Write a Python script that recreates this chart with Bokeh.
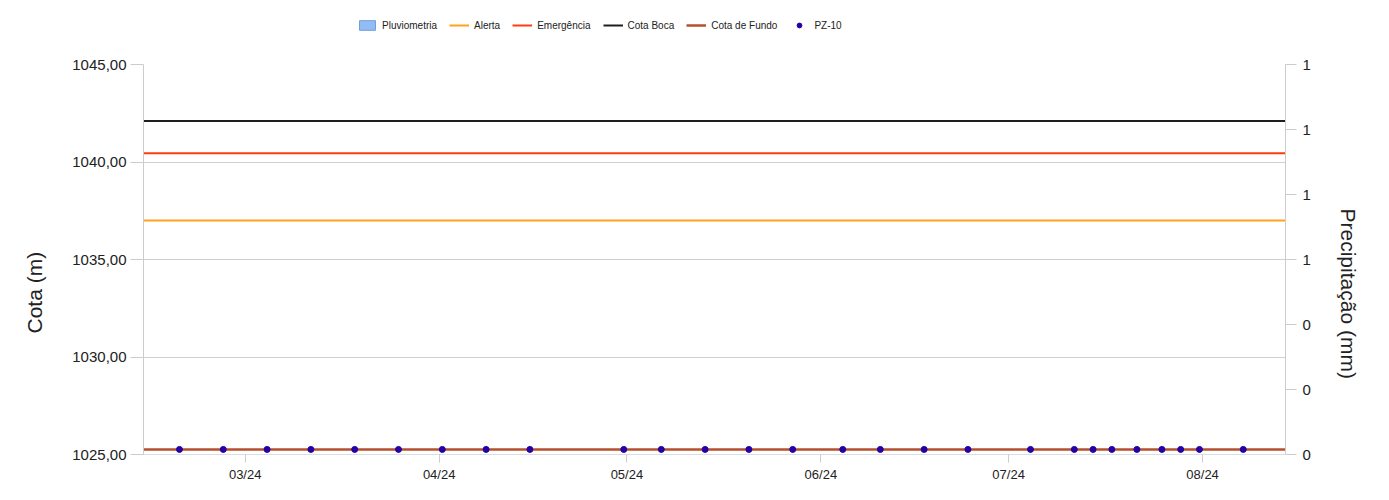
from datetime import datetime
from bokeh.plotting import figure
from bokeh.layouts import column
from bokeh.models import (Range1d, LinearAxis, FixedTicker, MonthsTicker, Title,
                          DatetimeTickFormatter, Legend, LegendItem, ColumnDataSource)
from bokeh.embed import file_html
from bokeh.resources import INLINE

# ---------------- data ----------------
pz_dates = [datetime(2024, 2, 19, 12), datetime(2024, 2, 26, 12), datetime(2024, 3, 4, 12),
            datetime(2024, 3, 11, 12), datetime(2024, 3, 18, 12), datetime(2024, 3, 25, 12),
            datetime(2024, 4, 1, 12), datetime(2024, 4, 8, 12), datetime(2024, 4, 15, 12),
            datetime(2024, 4, 30, 12), datetime(2024, 5, 6, 12), datetime(2024, 5, 13, 12),
            datetime(2024, 5, 20, 12), datetime(2024, 5, 27, 12), datetime(2024, 6, 4, 12),
            datetime(2024, 6, 10, 12), datetime(2024, 6, 17, 12), datetime(2024, 6, 24, 12),
            datetime(2024, 7, 4, 12), datetime(2024, 7, 11, 12), datetime(2024, 7, 14, 12),
            datetime(2024, 7, 17, 12), datetime(2024, 7, 21, 12), datetime(2024, 7, 25, 12),
            datetime(2024, 7, 28, 12), datetime(2024, 7, 31, 12), datetime(2024, 8, 7, 12)]
pz_values = [1025.26] * 27
rain_values = [0.0] * 27

alerta = 1037.0
emergencia = 1040.45
cota_boca = 1042.1
cota_fundo = 1025.26

x_start = datetime(2024, 2, 13, 18)
x_end = datetime(2024, 8, 14, 6)

left_ticks = [1025, 1030, 1035, 1040, 1045]
left_labels = ["1025,00", "1030,00", "1035,00", "1040,00", "1045,00"]
right_ticks = [0, 0.2, 0.4, 0.6, 0.8, 1.0, 1.2]
right_labels = ["0", "0", "0", "1", "1", "1", "1"]

legend_labels = ["Pluviometria", "Alerta", "Emergência", "Cota Boca", "Cota de Fundo", "PZ-10"]

FONT = "Liberation Sans"
C_RAIN_FILL, C_RAIN_LINE = "#93bcf2", "#6e9fe3"
C_ALERTA, C_EMERG, C_BOCA, C_FUNDO, C_PZ = "#ffa31a", "#ff3b12", "#1e1e1e", "#b4502e", "#2400a6"

W = 1381
TOP_H = 40

# ---------------- main figure ----------------
p = figure(width=W, height=444, x_axis_type="datetime",
           x_range=Range1d(x_start, x_end), y_range=Range1d(1025, 1045),
           output_backend="svg", toolbar_location=None,
           min_border_left=143, min_border_right=96, min_border_top=24, min_border_bottom=30)
p.outline_line_color = None
p.background_fill_color = "white"
p.border_fill_color = "white"

p.extra_y_ranges = {"rain": Range1d(0, 1.2)}

p.xgrid.grid_line_color = None
p.ygrid.grid_line_color = "#cfcfcf"
p.ygrid.grid_line_width = 1

ya = p.yaxis[0]
ya.ticker = FixedTicker(ticks=left_ticks)
ya.major_label_overrides = {t: l for t, l in zip(left_ticks, left_labels)}
ya.major_label_text_font = FONT
ya.major_label_text_font_size = "15px"
ya.major_label_text_color = "#222222"
ya.major_label_standoff = 4
ya.axis_line_color = "#cccccc"
ya.major_tick_line_color = "#cccccc"
ya.major_tick_out = 13
ya.major_tick_in = 0
ya.minor_tick_line_color = None

ra = LinearAxis(y_range_name="rain", ticker=FixedTicker(ticks=right_ticks))
ra.major_label_overrides = {t: l for t, l in zip(right_ticks, right_labels)}
ra.major_label_text_font = FONT
ra.major_label_text_font_size = "15px"
ra.major_label_text_color = "#222222"
ra.major_label_standoff = 6
ra.axis_line_color = "#cccccc"
ra.major_tick_line_color = "#cccccc"
ra.major_tick_out = 11
ra.major_tick_in = 0
ra.minor_tick_line_color = None
p.add_layout(ra, "right")

# axis titles as side titles
t_left = Title(text="Cota (m)", align="left", vertical_align="top", offset=121, standoff=43,
               text_font=FONT, text_font_size="21px", text_font_style="normal",
               text_color="#222222")
p.add_layout(t_left, "left")
t_right = Title(text="Precipitação (mm)", align="left", vertical_align="top", offset=144, standoff=42,
                text_font=FONT, text_font_size="21px", text_font_style="normal",
                text_color="#222222")
p.add_layout(t_right, "right")

xa = p.xaxis[0]
xa.ticker = MonthsTicker(months=list(range(1, 13)))
xa.formatter = DatetimeTickFormatter(months="%m/%y", days="%m/%y")
xa.major_label_text_font = FONT
xa.major_label_text_font_size = "13px"
xa.major_label_text_color = "#222222"
xa.axis_line_color = "#dddddd"
xa.major_tick_line_color = "#cccccc"
xa.major_tick_out = 8
xa.major_tick_in = 0
xa.minor_tick_line_color = None
xa.major_label_standoff = 4

rain_src = ColumnDataSource(dict(x=pz_dates, top=rain_values))
p.vbar(x="x", top="top", width=86400000 * 0.8, source=rain_src,
       y_range_name="rain", fill_color=C_RAIN_FILL, line_color=C_RAIN_LINE)

xs = [x_start, x_end]
p.line(xs, [alerta, alerta], line_color=C_ALERTA, line_width=2)
p.line(xs, [emergencia, emergencia], line_color=C_EMERG, line_width=2)
p.line(xs, [cota_boca, cota_boca], line_color=C_BOCA, line_width=2)
p.line(xs, [cota_fundo, cota_fundo], line_color=C_FUNDO, line_width=2.5)
p.scatter(pz_dates, pz_values, size=6, fill_color=C_PZ, line_color=C_PZ)

# ---------------- legend strip ----------------
lg = figure(width=W, height=TOP_H, x_range=Range1d(0, 1), y_range=Range1d(0, 1),
            output_backend="svg", toolbar_location=None,
            min_border_left=0, min_border_right=0, min_border_top=0, min_border_bottom=0)
lg.axis.visible = False
lg.grid.visible = False
lg.outline_line_color = None
# legend-key glyphs: one point placed outside the strip's visible range
off = ColumnDataSource(dict(x=[-50], y=[-50], top=[-50]))
g_rain = lg.vbar(x="x", top="top", bottom=-51, width=1, source=off,
                 fill_color=C_RAIN_FILL, line_color=C_RAIN_LINE)
g_alerta = lg.line(x="x", y="y", source=off, line_color=C_ALERTA, line_width=2)
g_emerg = lg.line(x="x", y="y", source=off, line_color=C_EMERG, line_width=2)
g_boca = lg.line(x="x", y="y", source=off, line_color=C_BOCA, line_width=2)
g_fundo = lg.line(x="x", y="y", source=off, line_color=C_FUNDO, line_width=2.5)
g_pz = lg.scatter(x="x", y="y", source=off, size=5, fill_color=C_PZ, line_color=C_PZ)
glyphs = [g_rain, g_alerta, g_emerg, g_boca, g_fundo, g_pz]

legend = Legend(items=[LegendItem(label=l, renderers=[g]) for l, g in zip(legend_labels, glyphs)],
                orientation="horizontal", location=(214, 9))
legend.label_text_font = FONT
legend.label_text_font_size = "10px"
legend.label_text_color = "#222222"
legend.glyph_width = 20
legend.glyph_height = 12
legend.label_standoff = 5
legend.spacing = 12
legend.padding = 0
legend.margin = 0
legend.border_line_color = None
legend.background_fill_alpha = 0
legend.label_height = 12
lg.add_layout(legend, "center")

layout = column(lg, p, spacing=0)
open("out.html", "w").write(file_html(layout, INLINE))
